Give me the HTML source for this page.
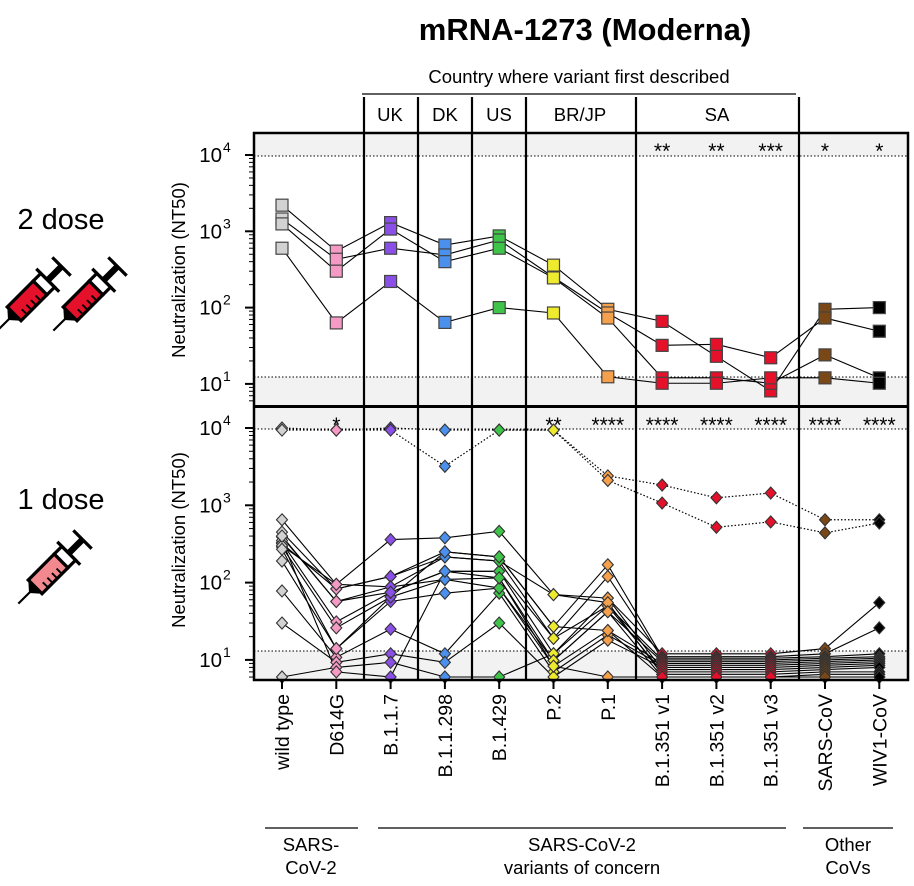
<!DOCTYPE html>
<html><head><meta charset="utf-8"><style>
body{margin:0;background:#fff;}
svg{display:block;font-family:"Liberation Sans",Arial,sans-serif;}
</style></head><body>
<svg id="c" width="914" height="886" viewBox="0 0 914 886" xmlns="http://www.w3.org/2000/svg"></svg>
<script>
const categories=["wild type","D614G","B.1.1.7","B.1.1.298","B.1.429","P.2","P.1","B.1.351 v1","B.1.351 v2","B.1.351 v3","SARS-CoV","WIV1-CoV"];
const colors=["#d2d2d2","#f49ac4","#8a4fe6","#4a90ec","#3ec449","#eeea2e","#f5a04c","#e5112b","#7a4717","#000000"];
const colorIdx=[0,1,2,3,4,5,6,7,7,7,8,9];
const twoDoseA=[2200,550,1300,660,870,360,95,66,23,8.1,95,100];
const twoDoseB=[1450,430,600,490,770,250,85,32,33,22,73,49];
const twoDoseC=[1250,300,1070,400,600,245,73,12,12,10.2,24,12];
const twoDoseD=[600,63,220,64,100,85,12.4,10.2,10.2,12,12,10.2];
const oneDoseHighE=[10000,9400,10000,9400,9400,9400,2400,1830,1250,1440,650,650];
const oneDoseHighF=[9400,9400,9400,3200,9400,9400,2100,1070,520,610,440,590];
const oneDoseS1=[650,95,360,380,460,70,63,12,12,12,14,55];
const oneDoseS2=[450,83,120,250,215,27,170,11,11,11,12,26];
const oneDoseS3=[390,57,88,215,190,19,120,10.5,10.5,10.5,11,12];
const oneDoseS4=[330,31,75,140,140,12,50,10,10,10,10.5,11];
const oneDoseS5=[290,26,65,110,115,9.8,42,9.5,9.5,9.5,10,10.5];
const oneDoseS6=[190,14,57,73,85,8.3,24,9,9,9,9.5,10];
const oneDoseS7=[78,10.8,25,12,73,7,21,8.5,8.5,8.5,9,9.5];
const oneDoseS8=[30,9.3,12,9.3,30,5.8,18,8,8,8,8.5,9];
const oneDoseS9=[5.8,8,9.3,5.8,5.8,12,63,7.5,7.5,7.5,8,8.5];
const oneDoseS10=[350,7,5.8,140,140,19,50,7,7,7,7.5,8];
const oneDoseS11=[320,83,120,215,190,70,55,6.5,6.5,6.5,7,7];
const oneDoseS12=[300,95,88,110,85,9.8,42,6,6,6,6.5,6.5];
const oneDoseS13=[270,14,65,250,215,27,24,5.8,5.8,5.8,6,6];
const oneDoseS14=[400,57,75,140,115,8.3,5.8,5.8,5.8,5.8,5.8,5.8];
const topStars=["","","","","","","","**","**","***","*","*"];
const bottomStars=["","*","","","","**","****","****","****","****","****","****"];
const tickExps=[1,2,3,4];

const NS="http://www.w3.org/2000/svg";
const svg=document.getElementById("c");
function el(t,a,p){const e=document.createElementNS(NS,t);for(const k in a)e.setAttribute(k,a[k]);(p||svg).appendChild(e);return e;}
const xL=254,xR=908;
function xPos(i){return 282+i*54.3;}
const topP={y0:133,y1:406,y4:155,dec:76.3,lo:377,hi:156};
const botP={y0:407,y1:680,y4:428,dec:77.3,lo:651,hi:429};
function yPos(p,v){let y=p.y4+(4-Math.log10(v))*p.dec;return Math.max(p.y0+3,Math.min(p.y1-3,y));}

let t=el("text",{x:585,y:40,"text-anchor":"middle","font-size":31,"font-weight":"bold"});t.textContent="mRNA-1273 (Moderna)";

t=el("text",{x:579,y:83,"text-anchor":"middle","font-size":18.5});t.textContent="Country where variant first described";

el("line",{x1:362,y1:94,x2:796,y2:94,stroke:"#000","stroke-width":1.3});
const regions=[["UK",390],["DK",445],["US",499],["BR/JP",580],["SA",717]];
regions.forEach(r=>{const e=el("text",{x:r[1],y:121,"text-anchor":"middle","font-size":18.5});e.textContent=r[0];
});

function panel(p,name){
  const g=el("g",{});
  el("rect",{x:xL,y:p.y0,width:xR-xL,height:p.hi-p.y0,fill:"#f2f2f2"},g);
  el("rect",{x:xL,y:p.lo,width:xR-xL,height:p.y1-p.lo,fill:"#f2f2f2"},g);
  el("line",{x1:xL,y1:p.hi,x2:xR,y2:p.hi,stroke:"#000","stroke-width":1,"stroke-dasharray":"1.5,2"},g);
  el("line",{x1:xL,y1:p.lo,x2:xR,y2:p.lo,stroke:"#000","stroke-width":1,"stroke-dasharray":"1.5,2"},g);
  tickExps.forEach(e=>{
    const y=p.y4+(4-e)*p.dec;
    el("line",{x1:xL-9,y1:y,x2:xL,y2:y,stroke:"#000","stroke-width":2},g);
    const tx=el("text",{x:xL-32,y:y+7,"text-anchor":"end","font-size":20.5},g);tx.textContent="10";
    
    el("text",{x:xL-31,y:y-3,"font-size":14},g).textContent=String(e);
    for(let m=2;m<=9;m++){const yy=p.y4+(4-(e-1)-Math.log10(m))*p.dec;
      if(yy>p.y0&&yy<p.y1)el("line",{x1:xL-5,y1:yy,x2:xL,y2:yy,stroke:"#000","stroke-width":1},g);}
  });
  for(let m=2;m<=9;m++){const yy=p.y4-Math.log10(m)*p.dec;if(yy>p.y0)el("line",{x1:xL-5,y1:yy,x2:xL,y2:yy,stroke:"#000","stroke-width":1},g);}
  return g;
}
const gT=panel(topP,"two-dose-panel");
const gB=panel(botP,"one-dose-panel");

function series(g,p,vals,dashed){
  const pts=vals.map((v,i)=>[xPos(i),yPos(p,v)]);
  const pl=el("polyline",{points:pts.map(q=>q.join(",")).join(" "),fill:"none",stroke:"#000","stroke-width":dashed?1.2:1.1,"stroke-dasharray":dashed?"1.5,2":"none"},g);
  
}
function marker(g,x,y,c,shape){
  let m;
  if(shape==="sq"){m=el("rect",{x:x-6,y:y-6,width:12,height:12,fill:c,stroke:"#444","stroke-width":1.2},g);}
  else{m=el("polygon",{points:`${x},${y-6} ${x+5.5},${y} ${x},${y+6} ${x-5.5},${y}`,fill:c,stroke:"#333","stroke-width":1.1},g);}
  
}
const topSeries=[twoDoseA,twoDoseB,twoDoseC,twoDoseD];
const botSolid=[oneDoseS1,oneDoseS2,oneDoseS3,oneDoseS4,oneDoseS5,oneDoseS6,oneDoseS7,oneDoseS8,oneDoseS9,oneDoseS10,oneDoseS11,oneDoseS12,oneDoseS13,oneDoseS14];
const botDashed=[oneDoseHighE,oneDoseHighF];
topSeries.forEach(s=>series(gT,topP,s,false));
botSolid.forEach(s=>series(gB,botP,s,false));
botDashed.forEach(s=>series(gB,botP,s,true));
topSeries.forEach(s=>s.forEach((v,i)=>marker(gT,xPos(i),yPos(topP,v),colors[colorIdx[i]],"sq")));
botSolid.concat(botDashed).forEach(s=>s.forEach((v,i)=>marker(gB,xPos(i),yPos(botP,v),colors[colorIdx[i]],"di")));

topStars.forEach((s,i)=>{if(!s)return;const e=el("text",{x:xPos(i),y:158,"text-anchor":"middle","font-size":21},gT);e.textContent=s;
});
bottomStars.forEach((s,i)=>{if(!s)return;const e=el("text",{x:xPos(i),y:432,"text-anchor":"middle","font-size":21},gB);e.textContent=s;
});

el("rect",{x:xL,y:133,width:xR-xL,height:547,fill:"none",stroke:"#000","stroke-width":2.5});
el("line",{x1:xL,y1:406.5,x2:xR,y2:406.5,stroke:"#000","stroke-width":3});
[364,418,472,526,636,799].forEach(x=>{const l=el("line",{x1:x,y1:97,x2:x,y2:680,stroke:"#000","stroke-width":2.2});
});

[["two-dose-y-title",270],["one-dose-y-title",540]].forEach(a=>{const e=el("text",{x:0,y:0,transform:`translate(185,${a[1]}) rotate(-90)`,"text-anchor":"middle","font-size":18.5});
e.textContent="Neutralization (NT50)";});

categories.forEach((c,i)=>{const x=xPos(i);el("line",{x1:x,y1:680,x2:x,y2:689,stroke:"#000","stroke-width":2});
const e=el("text",{x:0,y:0,transform:`translate(${x+7},694) rotate(-90)`,"text-anchor":"end","font-size":19.5});e.textContent=c;
});

const groups=[[265,358,311,["SARS-","CoV-2"]],[378,786,582,["SARS-CoV-2","variants of concern"]],[803,893,848,["Other","CoVs"]]];
groups.forEach(gp=>{el("line",{x1:gp[0],y1:828,x2:gp[1],y2:828,stroke:"#000","stroke-width":1.3});
gp[3].forEach((s,k)=>{const e=el("text",{x:gp[2],y:851+k*23,"text-anchor":"middle","font-size":18.5});e.textContent=s;
});});

[["two-dose-label",229,"2 dose"],["one-dose-label",509,"1 dose"]].forEach(a=>{const e=el("text",{x:61,y:a[1],"text-anchor":"middle","font-size":29});e.textContent=a[2];
});

function syringe(cx,cy,fill,name){
  const g=el("g",{transform:`translate(${cx},${cy}) rotate(-45) scale(1.08)`});
  
  el("line",{x1:-48,y1:0,x2:-33,y2:0,stroke:"#000","stroke-width":2},g);
  el("polygon",{points:"-34,0 -26,-9 -26,9",fill:"#000"},g);
  el("rect",{x:-26,y:-9,width:34,height:18,fill:fill,stroke:"#000","stroke-width":3},g);
  el("rect",{x:8,y:-9,width:10,height:18,fill:"#fff",stroke:"#000","stroke-width":3},g);
  for(let k=0;k<4;k++)el("line",{x1:-18+k*6,y1:9,x2:-18+k*6,y2:2,stroke:"#000","stroke-width":1.8},g);
  el("line",{x1:18,y1:-15,x2:18,y2:15,stroke:"#000","stroke-width":3},g);
  el("line",{x1:18,y1:0,x2:36,y2:0,stroke:"#000","stroke-width":6},g);
  el("line",{x1:36,y1:-12,x2:36,y2:12,stroke:"#000","stroke-width":3},g);
}
syringe(34,294,"#e5112b","syringe-icon-1");
syringe(90,294,"#e5112b","syringe-icon-2");
syringe(55,567,"#f2898f","syringe-icon-one-dose");
</script>
</body></html>
